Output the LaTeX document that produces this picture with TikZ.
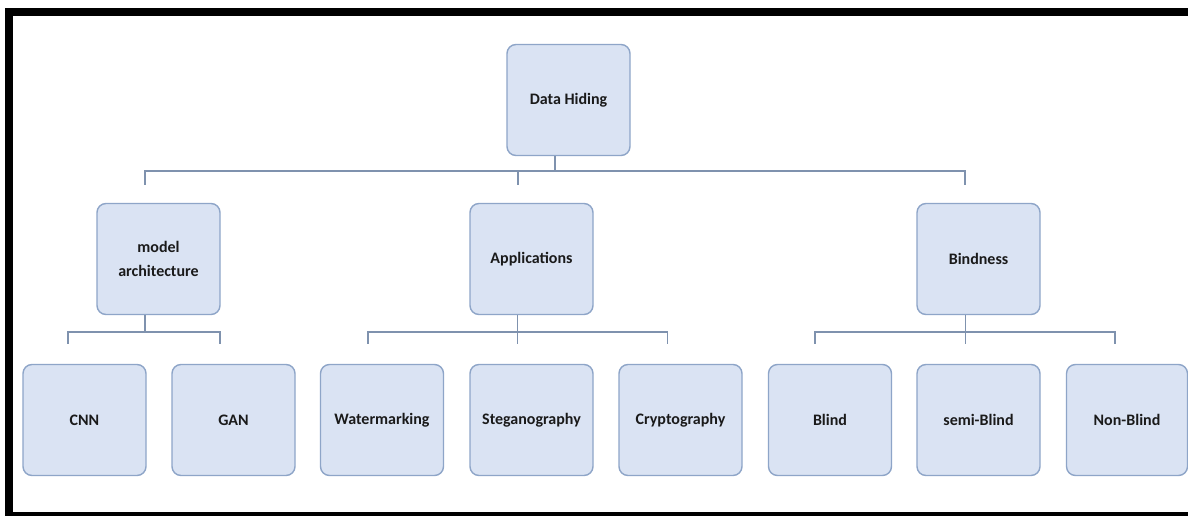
\documentclass[tikz,border=0pt]{standalone}
\usepackage{fontspec}
\setmainfont{Carlito}
\definecolor{boxfill}{HTML}{DAE3F3}
\definecolor{boxline}{HTML}{8EA5C8}
\definecolor{connline}{HTML}{7F92AE}
\definecolor{txt}{HTML}{1A1A1A}
\tikzset{
  hbox/.style={draw=boxline, fill=boxfill, line width=1.4pt, rounded corners=9pt,
    minimum width=123pt, minimum height=111pt, inner sep=2pt, align=center,
    font=\fontsize{16pt}{24pt}\selectfont\bfseries, text=txt},
  conn/.style={draw=connline, line width=1.8pt},
}
\begin{document}
\begin{tikzpicture}[x=1pt,y=-1pt]
\useasboundingbox (0,0) rectangle (1188,516);
\fill[white] (0,0) rectangle (1188,516);
% frame
\fill[black] (5,8) rectangle (1188,16);
\fill[black] (5,8) rectangle (13,516);
\fill[black] (5,512) rectangle (1188,516);
% nodes
\node[hbox] (DH) at (568.5,100) {Data Hiding};
\node[hbox] (MA) at (158.5,259) {model\\architecture};
\node[hbox] (AP) at (531.5,259) {Applications};
\node[hbox] (BI) at (978.5,259) {Bindness};
\node[hbox] (CNN) at (84.5,420) {CNN};
\node[hbox] (GAN) at (233.5,420) {GAN};
\node[hbox] (WM) at (382,420) {Watermarking};
\node[hbox] (ST) at (531.5,420) {Steganography};
\node[hbox] (CR) at (680.5,420) {Cryptography};
\node[hbox] (BL) at (830,420) {Blind};
\node[hbox] (SB) at (978.5,420) {semi-Blind};
\node[hbox, minimum width=121pt] (NB) at (1127,420) {Non-Blind};
% stub ends
\coordinate (tMA) at ([xshift=-13.5pt,yshift=18pt]MA.north);
\coordinate (tAP) at ([xshift=-13.5pt,yshift=18pt]AP.north);
\coordinate (tBI) at ([xshift=-13.5pt,yshift=18pt]BI.north);
\coordinate (tCNN) at ([xshift=-16.5pt,yshift=20pt]CNN.north);
\coordinate (tGAN) at ([xshift=-13.5pt,yshift=20pt]GAN.north);
\coordinate (tWM) at ([xshift=-14pt,yshift=20pt]WM.north);
\coordinate (tST) at ([xshift=-14pt,yshift=20pt]ST.north);
\coordinate (tCR) at ([xshift=-13pt,yshift=20pt]CR.north);
\coordinate (tBL) at ([xshift=-15pt,yshift=20pt]BL.north);
\coordinate (tSB) at ([xshift=-13pt,yshift=20pt]SB.north);
\coordinate (tNB) at ([xshift=-12pt,yshift=20pt]NB.north);
% level 1 bus
\draw[conn] ([xshift=-13.5pt]DH.south) -- ++(0,15) coordinate (b0);
\draw[conn] (tMA) |- (b0) -| (tBI);
\draw[conn] (b0 -| tAP) -- (tAP);
% model architecture
\draw[conn] ([xshift=-13.5pt]MA.south) -- ++(0,17) coordinate (b1);
\draw[conn] (tCNN) |- (b1) -| (tGAN);
% applications
\draw[conn] ([xshift=-14pt]AP.south) -- ++(0,17) coordinate (b2);
\draw[conn] (tWM) |- (b2) -| (tCR);
\draw[conn] (b2) -- (tST);
% bindness
\draw[conn] ([xshift=-13pt]BI.south) -- ++(0,17) coordinate (b3);
\draw[conn] (tBL) |- (b3) -| (tNB);
\draw[conn] (b3) -- (tSB);
\end{tikzpicture}
\end{document}
